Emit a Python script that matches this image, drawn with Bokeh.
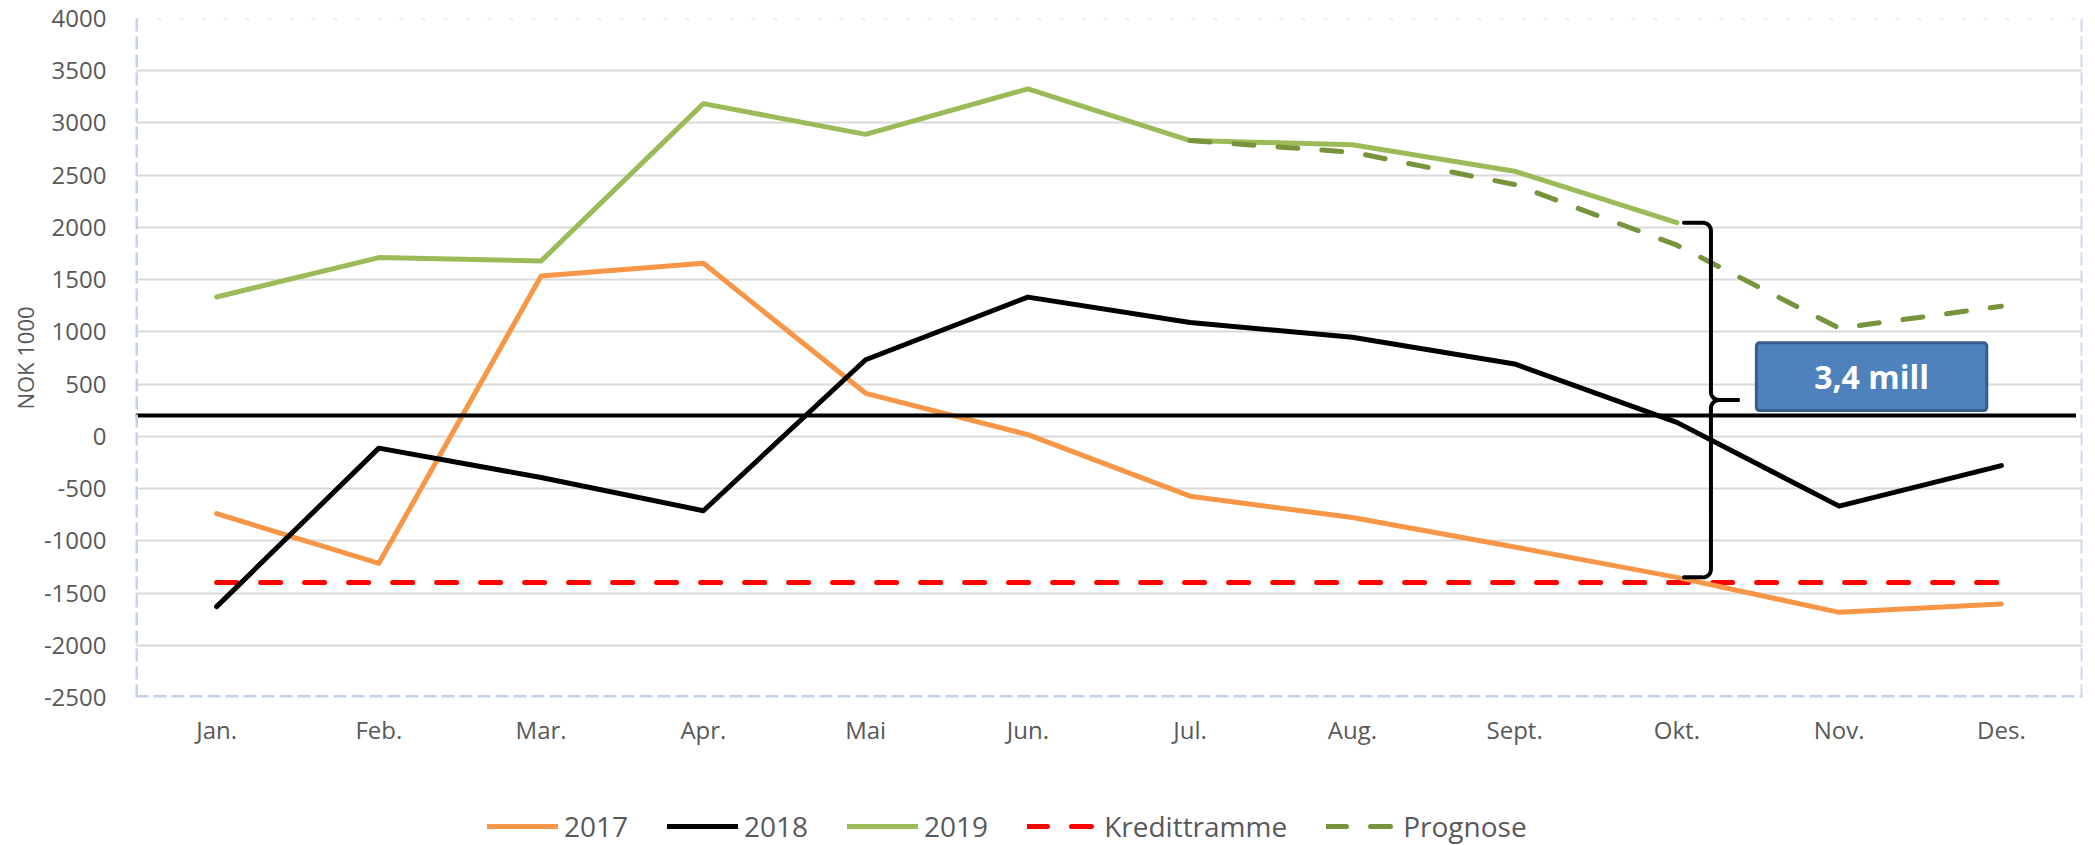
import numpy as np
from bokeh.plotting import figure
from bokeh.layouts import column
from bokeh.models import (Range1d, FixedTicker, Span, Legend, LegendItem,
                          Label, BoxAnnotation)
from bokeh.embed import file_html
from bokeh.resources import INLINE

# ---------------- data ----------------
months = ["Jan.", "Feb.", "Mar.", "Apr.", "Mai", "Jun.", "Jul.", "Aug.",
          "Sept.", "Okt.", "Nov.", "Des."]
y2017 = [-740, -1215, 1535, 1657, 412, 17, -573, -777, -1059, -1350, -1685, -1605]
y2018 = [-1630, -113, -394, -712, 733, 1333, 1089, 949, 693, 134, -668, -280]
y2019 = [1334, 1711, 1679, 3185, 2891, 3326, 2831, 2792, 2538, 2045, None, None]
kredittramme = [-1400, -1400, -1400, -1400, -1400, -1400, -1400, -1400,
                -1400, -1400, -1400, -1400]
prognose = [None, None, None, None, None, None, 2831, 2720, 2410, 1830, 1035, 1245]
threshold = 200
y_ticks = [-2500, -2000, -1500, -1000, -500, 0, 500, 1000, 1500, 2000,
           2500, 3000, 3500, 4000]
series_names = ["2017", "2018", "2019", "Kredittramme", "Prognose"]
gap_month = 9            # index of "Okt."
gap_top = y2019[gap_month]
gap_bottom = y2017[gap_month]
gap_label = ("%.1f" % ((gap_top - gap_bottom) / 1000.0)).replace(".", ",") + " mill"

def arr(v):
    return np.array([np.nan if x is None else x for x in v], dtype=float)

xs = np.arange(len(months))
series = [y2017, y2018, y2019, kredittramme, prognose]

FONT = "Open Sans"
GRAY = "#595959"

styles = [
    dict(line_color="#f79646", line_width=5, line_join="round", line_cap="round"),
    dict(line_color="#000000", line_width=5, line_join="round", line_cap="round"),
    dict(line_color="#9bbb59", line_width=5, line_join="round", line_cap="round"),
    dict(line_color="#ff0000", line_width=5, line_dash="20 24", line_cap="round"),
    dict(line_color="#77933c", line_width=5, line_dash="20 24", line_cap="round",
         line_join="round"),
]

p = figure(width=2095, height=790,
           x_range=Range1d(-0.5, 11.5), y_range=Range1d(-2500, 4000),
           output_backend="svg", toolbar_location=None,
           min_border_left=135, min_border_right=13,
           min_border_top=18, min_border_bottom=93)
p.outline_line_color = None
p.background_fill_color = "white"
p.border_fill_color = "white"

p.xgrid.grid_line_color = None
p.ygrid.grid_line_color = "#d9d9d9"
p.ygrid.grid_line_width = 2

p.yaxis.ticker = FixedTicker(ticks=y_ticks)
p.yaxis.major_label_overrides = {t: str(t) for t in y_ticks}
p.xaxis.ticker = FixedTicker(ticks=list(range(len(months))))
p.xaxis.major_label_overrides = {i: m for i, m in enumerate(months)}
for ax in (p.xaxis, p.yaxis):
    ax.axis_line_color = None
    ax.major_tick_line_color = None
    ax.minor_tick_line_color = None
    ax.major_tick_out = 0
    ax.major_tick_in = 0
    ax.minor_tick_out = 0
    ax.major_label_text_font = FONT
    ax.major_label_text_font_size = "24px"
    ax.major_label_text_color = GRAY
p.xaxis.major_label_standoff = 15
p.yaxis.major_label_standoff = 29
p.yaxis.axis_label = "NOK 1000"
p.yaxis.axis_label_text_font = FONT
p.yaxis.axis_label_text_font_size = "22px"
p.yaxis.axis_label_text_font_style = "normal"
p.yaxis.axis_label_text_color = GRAY
p.yaxis.axis_label_standoff = 1

# ---------------- series ----------------
p.line(xs, arr(kredittramme), **styles[3])
p.line(xs, arr(y2017), **styles[0])
p.line(xs, arr(y2018), **styles[1])
p.line(xs, arr(y2019), **styles[2])
p.line(xs, arr(prognose), **styles[4])

# horizontal reference line
p.segment(x0=[-0.5], x1=[11.46], y0=[threshold], y1=[threshold],
          line_color="black", line_width=4)

# ---------------- brace ----------------
px_x = 1.0 / 162.25          # data units per pixel (x)
px_y = 500.0 / 52.23         # data units per pixel (y)
bx = gap_month + 0.21
mid = (gap_top + gap_bottom) / 2.0
r = 8.0
stub = 27.0

def arc(cx, cy, a0, a1, n=8):
    t = np.linspace(np.radians(a0), np.radians(a1), n)
    return cx + r * np.cos(t), cy + r * np.sin(t)

def to_data(dx, dy, base_y):
    return bx + np.asarray(dx) * px_x, base_y + np.asarray(dy) * px_y

ux, uy = [], []
a_x, a_y = arc(-r, -r, 90, 0)
tx, ty = to_data(np.r_[-stub, a_x], np.r_[0, a_y], gap_top)
ux += list(tx); uy += list(ty)
c_x, c_y = arc(r, r, 180, 270)
tx, ty = to_data(np.r_[c_x, stub], np.r_[c_y, 0], mid)
ux += list(tx); uy += list(ty)
lx, ly = [], []
c_x, c_y = arc(r, -r, 90, 180)
tx, ty = to_data(np.r_[stub, c_x], np.r_[0, c_y], mid)
lx += list(tx); ly += list(ty)
b_x, b_y = arc(-r, r, 0, -90)
tx, ty = to_data(np.r_[b_x, -stub], np.r_[b_y, 0], gap_bottom)
lx += list(tx); ly += list(ty)
p.multi_line(xs=[ux, lx], ys=[uy, ly], line_color="black", line_width=4,
             line_join="round", line_cap="round")

# ---------------- label box ----------------
box = BoxAnnotation(left=9.49, right=10.91, bottom=247, top=895,
                    fill_color="#4f81bd", fill_alpha=1.0,
                    line_color="#385d8a", line_width=3, line_alpha=1.0,
                    border_radius=3)
p.add_layout(box)
p.add_layout(Label(x=10.2, y=571, text=gap_label, text_align="center",
                   text_baseline="middle", text_font=FONT,
                   text_font_size="32px", text_font_style="bold",
                   text_color="white"))

# ---------------- plot area border ----------------
p.add_layout(Span(location=4000, dimension="width", line_color="#d8dee6",
                  line_width=2, line_dash="4 18"))
p.add_layout(Span(location=-0.5, dimension="height", line_color="#c3d3e9",
                  line_width=5, line_dash="13 5"))
p.add_layout(Span(location=11.5, dimension="height", line_color="#cddaec",
                  line_width=4, line_dash="13 5"))
p.add_layout(Span(location=-2500, dimension="width", line_color="#c3d3e9",
                  line_width=5, line_dash="13 5"))

# ---------------- legend (strip below the chart) ----------------
# proxies: same data & style, drawn outside the strip's visible range
lp = figure(width=2095, height=55, x_range=Range1d(0, 1), y_range=Range1d(0, 1),
            output_backend="svg", toolbar_location=None, min_border=0)
lp.axis.visible = False
lp.grid.visible = False
lp.outline_line_color = None
lp.border_fill_color = "white"
items = []
for name, st, ys in zip(series_names, styles, series):
    rr = lp.line(xs, arr(ys), **st)
    items.append(LegendItem(label=name, renderers=[rr]))
legend = Legend(items=items, orientation="horizontal", location=(352, 0),
                glyph_width=71, glyph_height=20, label_standoff=6,
                spacing=39, padding=0, margin=0,
                label_text_font=FONT, label_text_font_size="28px",
                label_text_color=GRAY, border_line_color=None,
                background_fill_alpha=0.0)
lp.add_layout(legend)

open("out.html", "w").write(file_html(column(p, lp, spacing=0), INLINE))
